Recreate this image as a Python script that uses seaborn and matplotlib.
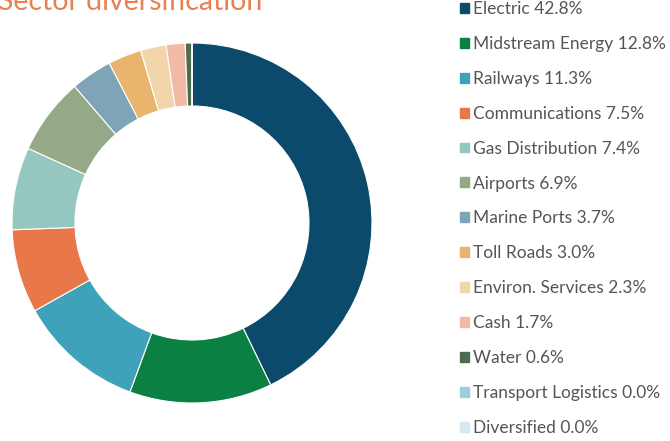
import matplotlib
matplotlib.use("Agg")
import matplotlib.pyplot as plt
import matplotlib.patches as mpatches
import seaborn as sns

SECTORS = ["Electric", "Midstream Energy", "Railways", "Communications", "Gas Distribution",
           "Airports", "Marine Ports", "Toll Roads", "Environ. Services", "Cash", "Water",
           "Transport Logistics", "Diversified"]
WEIGHTS = [42.8, 12.8, 11.3, 7.5, 7.4, 6.9, 3.7, 3.0, 2.3, 1.7, 0.6, 0.0, 0.0]
COLORS = ["#0B4A6B", "#0A8042", "#3FA1BA", "#E8774A", "#96C6C0", "#95A888", "#7FA3B7",
          "#E8B46E", "#F2D5AB", "#F2B9A4", "#4D6B4E", "#9ACFDD", "#D6E9F0"]
TITLE = "Sector diversification"

sns.set_theme(style="white")
plt.rcParams["font.family"] = ["Lato", "DejaVu Sans"]
palette = sns.color_palette(COLORS)

fig = plt.figure(figsize=(6.7, 4.41), dpi=100)
ax = fig.add_axes([12 / 670, 38 / 441, 360 / 670, 360 / 441])
ax.pie(WEIGHTS, colors=palette, startangle=90, counterclock=False, radius=1,
       wedgeprops=dict(width=0.35, edgecolor="white", linewidth=0.8))
ax.set_xlim(-1, 1)
ax.set_ylim(-1, 1)
ax.set_aspect("equal")
ax.axis("off")

# title sits partly above the canvas, as in the source image
fig.text(-0.003, 1 - 10 / 441, TITLE, color="#E8804F", fontsize=20.5, va="baseline", ha="left")

handles = [mpatches.Patch(color=c, label=f"{s} {w:.1f}%") for s, w, c in zip(SECTORS, WEIGHTS, palette)]
fig.legend(handles=handles, loc="upper left", bbox_to_anchor=(453 / 670, 1 + 6 / 441),
           frameon=False, fontsize=12.5, handlelength=0.5, handleheight=0.5,
           handletextpad=0.25, labelspacing=1.09, labelcolor="#555555", borderaxespad=0)

fig.savefig("out.png", dpi=100)
